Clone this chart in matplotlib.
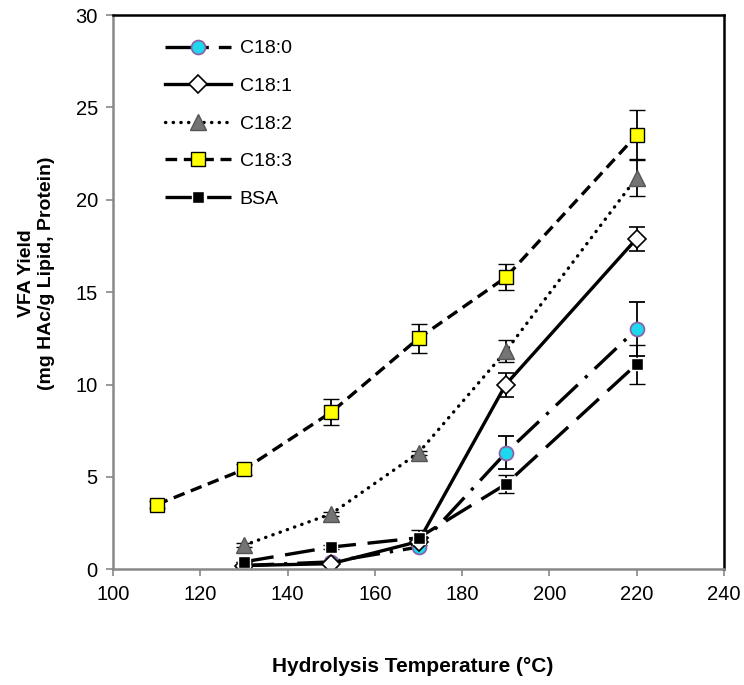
import matplotlib
matplotlib.use("Agg")
import matplotlib.pyplot as plt
import numpy as np

plt.rcParams['font.family'] = ['Liberation Sans', 'DejaVu Sans']

# data
tempC180 = [130, 150, 170, 190, 220]
yC180 = [0.2, 0.4, 1.2, 6.3, 13.0]
eC180 = [0.0, 0.0, 0.1, 0.9, 1.45]

tempC181 = [130, 150, 170, 190, 220]
yC181 = [0.2, 0.3, 1.5, 10.0, 17.9]
eC181 = [0.0, 0.0, 0.0, 0.65, 0.65]

tempC182 = [130, 150, 170, 190, 220]
yC182 = [1.3, 3.0, 6.3, 11.8, 21.2]
eC182 = [0.1, 0.1, 0.1, 0.6, 1.0]

tempC183 = [110, 130, 150, 170, 190, 220]
yC183 = [3.5, 5.4, 8.5, 12.5, 15.8, 23.5]
eC183 = [0.2, 0.3, 0.7, 0.8, 0.7, 1.35]

tempBSA = [130, 150, 170, 190, 220]
yBSA = [0.4, 1.2, 1.7, 4.6, 11.1]
eBSA = [0.0, 0.1, 0.4, 0.5, 1.05]

fig = plt.figure(figsize=(7.44, 6.85), dpi=100)
ax = fig.add_axes([0.152, 0.169, 0.821, 0.809])

lw = 2.4
series = [
  (tempC180, yC180, eC180, 'C18:0', dict(dashes=(9, 3, 1, 3), marker='o', markersize=10,
      markerfacecolor='#1ed8ee', markeredgecolor='#8a64a8', markeredgewidth=1.3)),
  (tempC181, yC181, eC181, 'C18:1', dict(linestyle='-', marker='D', markersize=9.5,
      markerfacecolor='white', markeredgecolor='black', markeredgewidth=1.2)),
  (tempC182, yC182, eC182, 'C18:2', dict(dashes=(0.1, 2.2), dash_capstyle='round', marker='^', markersize=11,
      markerfacecolor='#747474', markeredgecolor='#555555', markeredgewidth=1.0)),
  (tempC183, yC183, eC183, 'C18:3', dict(dashes=(3.5, 2), marker='s', markersize=10.5,
      markerfacecolor='#ffff00', markeredgecolor='black', markeredgewidth=1.0)),
  (tempBSA, yBSA, eBSA, 'BSA', dict(dashes=(9, 3.5), marker='s', markersize=8.5,
      markerfacecolor='black', markeredgecolor='white', markeredgewidth=1.0)),
]

handles = []
names = []
for x, y, e, name, style in series:
  cont = ax.errorbar(x, y, yerr=e, color='black', linewidth=lw, elinewidth=1.3, capsize=6, capthick=1.3,
                     **style)
  handles.append(cont.lines[0])
  names.append(name)

ax.set_xlim(100, 240)
ax.set_ylim(0, 30)
ax.set_xticks(np.arange(100, 241, 20))
ax.set_yticks(np.arange(0, 31, 5))
ax.tick_params(labelsize=14.5, direction='out', length=5, color='#888888', width=1.2, pad=6)
for side in ['left', 'bottom']:
  ax.spines[side].set_color('#888888')
  ax.spines[side].set_linewidth(1.8)
for side in ['top', 'right']:
  ax.spines[side].set_color('black')
  ax.spines[side].set_linewidth(1.8)

ax.set_xlabel('Hydrolysis Temperature (°C)', fontsize=15, fontweight='bold')
ax.set_ylabel('VFA Yield\n(mg HAc/g Lipid, Protein)', fontsize=14, fontweight='bold')
ax.xaxis.set_label_coords(0.491, -0.159)
ax.yaxis.set_label_coords(-0.095, 0.534)

ax.legend(handles, names, loc='upper left', bbox_to_anchor=(0.056, 0.987), frameon=False, fontsize=14,
          handlelength=3.4, labelspacing=1.03, handletextpad=0.45)

fig.savefig('out.png', dpi=100)
